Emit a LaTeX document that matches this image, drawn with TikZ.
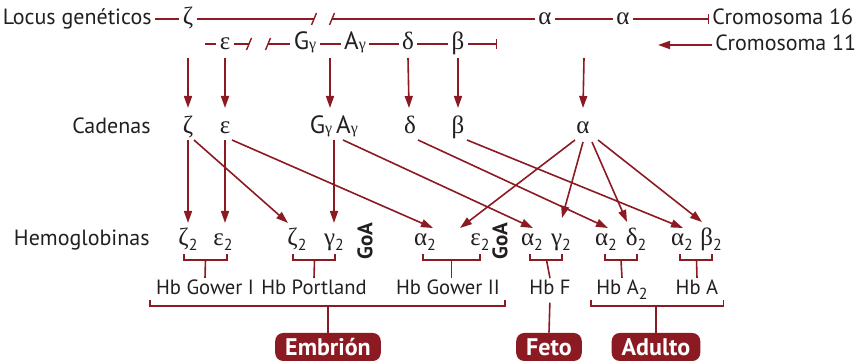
\documentclass[tikz,border=0pt]{standalone}
\usepackage{fontspec}
\setmainfont{PT Sans}
\newfontfamily\grk{Liberation Serif}
\usepackage{tikz}
\usetikzlibrary{arrows.meta,calc,positioning}
\definecolor{HbRed}{HTML}{8C1A23}
\definecolor{TextDark}{HTML}{231F20}
\newcommand{\gr}[1]{{\grk #1}}
\newcommand{\gsub}[1]{{\fontsize{8}{8}\selectfont\grk #1}}
\newcommand{\sub}[1]{\raisebox{-2.5pt}{\fontsize{8}{8}\selectfont #1}}

\begin{document}
\begin{tikzpicture}[
  x=0.5pt, y=-0.5pt,
  chain/.style={draw=HbRed, line width=0.7pt},
  arr/.style={draw=HbRed, line width=0.8pt, -{Triangle[length=6pt,width=4pt]}},
  brk/.style={draw=HbRed, line width=0.8pt},
  lbl/.style={font=\fontsize{11}{13}\selectfont, text=TextDark, inner sep=1pt},
  hbname/.style={lbl, font=\fontsize{10.3}{12}\selectfont, anchor=base},
  locus/.style={lbl, inner sep=1.5pt, text height=7.5pt, text depth=1.5pt},
  gene/.style={font=\fontsize{12.5}{14}\selectfont, text=TextDark, inner sep=1.5pt,
               text height=7.5pt, text depth=1.5pt},
  hb/.style={font=\fontsize{12.5}{14}\selectfont, text=TextDark, inner sep=0pt, anchor=base},
  goa/.style={font=\fontsize{10.5}{12}\selectfont\bfseries, text=TextDark, inner sep=0pt, rotate=90},
  stage/.style={fill=HbRed, text=white, rounded corners=4pt, font=\fontsize{12}{14}\selectfont\bfseries,
                inner xsep=5pt, inner ysep=0pt, minimum height=14pt},
]
  \useasboundingbox (0,0) rectangle (862,362);

  % Chromosome 16
  \node[locus, anchor=east] (locus) at (155,19) {Locus genéticos};
  \node[gene] (zeta0) at (188,19) {\gr{ζ}};
  \coordinate (cut16a) at (314,19);
  \coordinate (cut16b) at (332,19);
  \node[gene] (alpha0a) at (545,19) {\gr{α}};
  \node[gene] (alpha0b) at (623,19) {\gr{α}};
  \node[locus, anchor=west] (crom16) at (709,19) {Cromosoma 16};

  \draw[chain] (locus) -- (zeta0);
  \draw[chain] (zeta0) -- (cut16a);
  \draw[chain] (cut16b) -- (alpha0a);
  \draw[chain] (alpha0a) -- (alpha0b);
  \draw[chain, -{Bar[width=5pt]}] (alpha0b) -- (crom16);

  % Chromosome 11
  \coordinate (c11start) at (205,44);
  \node[gene] (eps0) at (225,44) {\gr{ε}};
  \coordinate (cut11a) at (249,44);
  \coordinate (cut11b) at (268,44);
  \node[gene] (gG0) at (305,44) {G\gsub{γ}};
  \node[gene] (gA0) at (355,44) {A\gsub{γ}};
  \node[gene] (del0) at (408,44) {\gr{δ}};
  \node[gene] (bet0) at (458,44) {\gr{β}};
  \coordinate (end11) at (497,44);
  \node[locus, anchor=west] (crom11) at (712,45) {Cromosoma 11};
  \coordinate (c11tip) at (658,45);

  \draw[chain] (c11start) -- (eps0);
  \draw[chain] (eps0) -- (cut11a);
  \draw[chain] (cut11b) -- (gG0);
  \draw[chain] (gG0) -- (gA0);
  \draw[chain] (gA0) -- (del0);
  \draw[chain] (del0) -- (bet0);
  \draw[chain, -{Bar[width=5pt]}] (bet0) -- (end11);
  \draw[arr] (crom11) -- (c11tip);

  % breaks
  \foreach \c in {cut16a,cut16b,cut11a,cut11b}
    \draw[chain] ($(\c)+(-2.5,6)$) -- ($(\c)+(2.5,-6)$);

  % Cadenas
  \node[lbl, anchor=base east] (cadenas) at (153,134) {Cadenas};
  \node[hb] (zeta1) at (188,134) {\gr{ζ}};
  \node[hb] (eps1) at (225,134) {\gr{ε}};
  \node[hb] (gG1) at (321,134) {G\gsub{γ}};
  \node[hb] (gA1) at (347,134) {A\gsub{γ}};
  \node[hb] (del1) at (410,134) {\gr{δ}};
  \node[hb] (bet1) at (458,134) {\gr{β}};
  \node[hb] (alp1) at (583,134) {\gr{α}};

  \draw[arr] ($(zeta0 |- eps0)+(0,14)$) -- ($(zeta1.base)+(0,-26)$);
  \draw[arr] ($(eps0)+(0,14)$) -- ($(eps1.base)+(0,-26)$);
  \draw[arr] ($(gG0)!0.5!(gA0)+(0,14)$) -- ($(gG1.base)+(9,-26)$);
  \draw[arr] ($(del0)+(0,14)$) -- ($(del1.base)+(-1,-26)$);
  \draw[arr] ($(bet0)+(0,14)$) -- ($(bet1.base)+(0,-26)$);
  \draw[arr] ($(alpha0a)!0.5!(alpha0b)+(0,39)$) -- ($(alp1.base)+(0,-26)$);

  % Hemoglobinas
  \node[lbl, anchor=base east] (hemo) at (152,246) {Hemoglobinas};
  \node[hb] (z2a) at (188,246) {\gr{ζ}\sub{2}};
  \node[hb] (e2a) at (223,246) {\gr{ε}\sub{2}};
  \node[hb] (z2b) at (297,246) {\gr{ζ}\sub{2}};
  \node[hb] (g2b) at (334,246) {\gr{γ}\sub{2}};
  \node[goa] (goa1) at (365,241) {GoA};
  \node[hb] (a2c) at (425,246) {\gr{α}\sub{2}};
  \node[hb] (e2c) at (480,246) {\gr{ε}\sub{2}};
  \node[goa] (goa2) at (500,241) {GoA};
  \node[hb] (a2f) at (532,246) {\gr{α}\sub{2}};
  \node[hb] (g2f) at (561,246) {\gr{γ}\sub{2}};
  \node[hb] (a2d) at (606,246) {\gr{α}\sub{2}};
  \node[hb] (d2d) at (636,246) {\gr{δ}\sub{2}};
  \node[hb] (a2e) at (682,246) {\gr{α}\sub{2}};
  \node[hb] (b2e) at (711,246) {\gr{β}\sub{2}};

  \draw[arr] ($(zeta1.base)+(0,6)$) -- ($(z2a.base)+(0,-23)$);
  \draw[arr] ($(zeta1.base)+(6,6)$) -- ($(z2b.base)+(-9,-23)$);
  \draw[arr] ($(eps1.base)+(0,6)$) -- ($(e2a.base)+(2,-23)$);
  \draw[arr] ($(eps1.base)+(7,6)$) -- ($(a2c.base)+(8,-18)$);
  \draw[arr] ($(gG1.base)+(13,6)$) -- ($(g2b.base)+(0,-23)$);
  \draw[arr] ($(gA1.base)+(-4,6)$) -- ($(a2f.base)+(1,-18)$);
  \draw[arr] ($(del1.base)+(8,6)$) -- ($(a2d.base)+(2,-18)$);
  \draw[arr] ($(bet1.base)+(9,6)$) -- ($(a2e.base)+(1,-18)$);
  \draw[arr] ($(alp1.base)+(-8,6)$) -- ($(e2c.base)+(-20,-18)$);
  \draw[arr] ($(alp1.base)+(0,8)$) -- ($(g2f.base)+(1,-28)$);
  \draw[arr] ($(alp1.base)+(9,8)$) -- ($(d2d.base)+(-9,-24)$);
  \draw[arr] ($(alp1.base)+(15,6)$) -- ($(b2e.base)+(-9,-24)$);

  % Hb names
  \node[hbname] (gowerI) at (205,295) {Hb Gower I};
  \node[hbname] (portland) at (314,295) {Hb Portland};
  \node[hbname] (gowerII) at (448,295) {Hb Gower II};
  \node[hbname] (hbF) at (550,295) {Hb F};
  \node[hbname] (hbA2) at (622,295) {Hb A\sub{2}};
  \node[hbname] (hbA) at (697,295) {Hb A};

  \coordinate (midGII) at ($(a2c.base)!0.5!(e2c.base)+(-1,14)$);
  \draw[brk] ($(z2a.base)+(-4,8)$) -- ++(0,6) -| ($(e2a.base)+(4,8)$);
  \draw[brk] ($(z2a.base)!0.5!(e2a.base)+(0,14)$) -- (gowerI.north);
  \draw[brk] ($(z2b.base)+(-4,8)$) -- ++(0,6) -| ($(g2b.base)+(1,8)$);
  \draw[brk] ($(z2b.base)!0.5!(g2b.base)+(-1,14)$) -- (portland.north);
  \draw[brk] ($(a2c.base)+(-2,8)$) -- ++(0,6) -| ($(e2c.base)+(0,8)$);
  \draw[brk] (midGII) -- (midGII |- gowerII.north);
  \draw[brk] ($(a2f.base)+(-2,8)$) -- ++(0,6) -| ($(g2f.base)+(1,8)$);
  \draw[brk] ($(a2f.base)!0.5!(g2f.base)+(0,14)$) -- (hbF.north);
  \draw[brk] ($(a2d.base)+(-1,8)$) -- ++(0,6) -| ($(d2d.base)+(1,8)$);
  \draw[brk] ($(a2d.base)!0.5!(d2d.base)+(0,14)$) -- (hbA2.north);
  \draw[brk] ($(a2e.base)+(-2,8)$) -- ++(0,6) -| ($(b2e.base)+(1,8)$);
  \draw[brk] ($(a2e.base)!0.5!(b2e.base)+(0,14)$) -- (hbA.north);

  % Stages
  \node[stage] (embrion) at (328,347) {Embrión};
  \node[stage] (feto) at (549,347) {Feto};
  \node[stage] (adulto) at (656,347) {Adulto};

  \coordinate (embbrk) at ($(gowerI.base west)+(-4,11)$);
  \coordinate (adbrk) at ($(hbA2.base west)+(-3,11)$);
  \draw[brk] ($(gowerI.base west)+(-4,5)$) -- (embbrk) -| ($(gowerII.base east)+(3,5)$);
  \draw[brk] (embrion.north) -- (embrion.north |- embbrk);
  \draw[brk, shorten <=2.5pt] (hbF.south) -- (feto.north);
  \draw[brk] ($(hbA2.base west)+(-3,5)$) -- (adbrk) -| ($(hbA.base east)+(3,5)$);
  \draw[brk] (adulto.north) -- (adulto.north |- adbrk);
\end{tikzpicture}
\end{document}
